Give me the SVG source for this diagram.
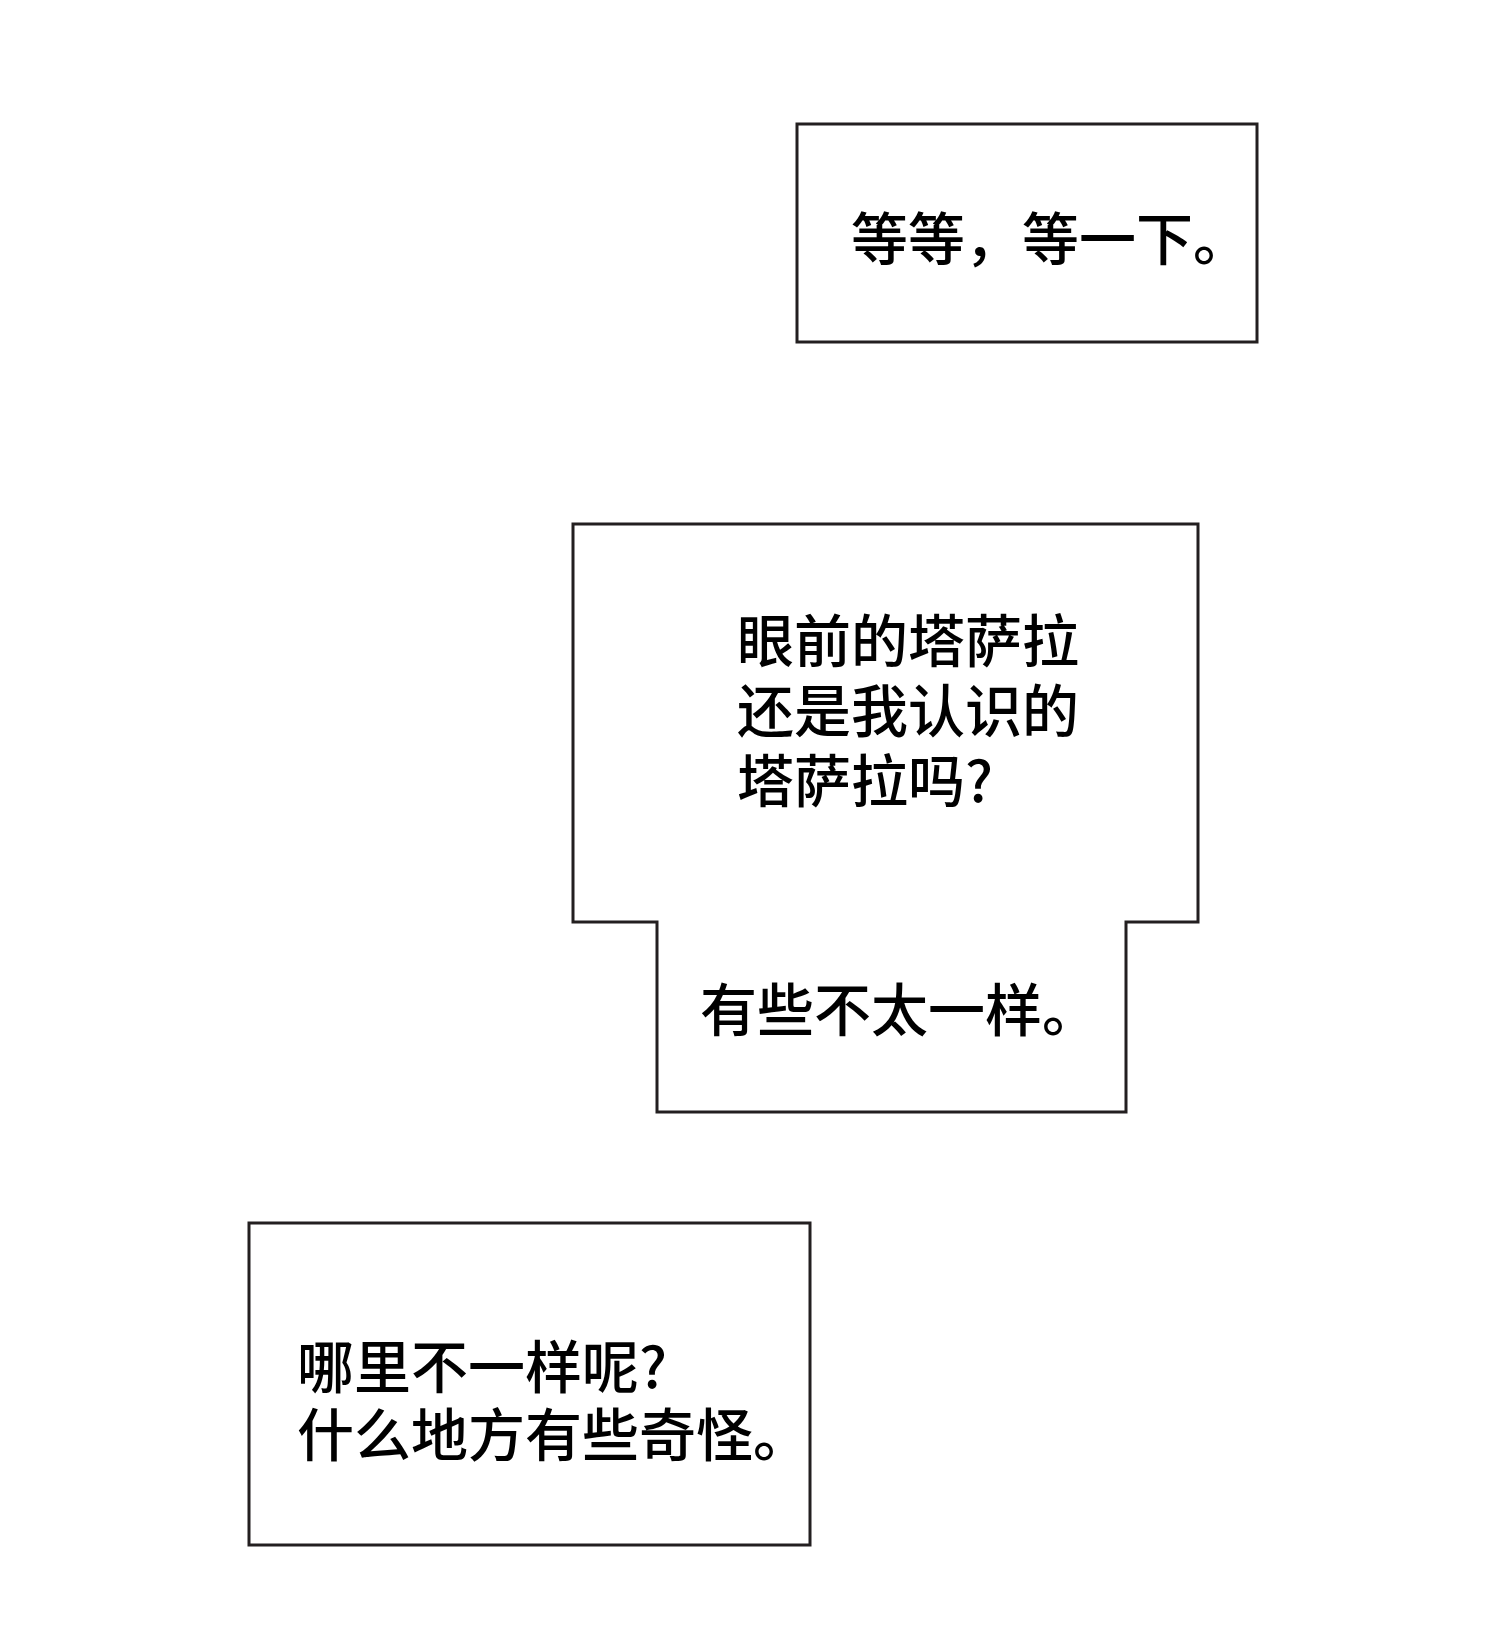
<svg xmlns="http://www.w3.org/2000/svg" width="1500" height="1635" viewBox="0 0 1500 1635">
<style>
.b{fill:#fff;stroke:#231f20;stroke-width:3}
.t{font-family:"Noto Sans CJK SC","Noto Sans",sans-serif;font-size:57px;font-weight:500;fill:#000}
</style>
<rect width="1500" height="1635" fill="#fff"/>
<g id="box1"><rect class="b" x="797" y="124" width="460" height="218"/>
<text class="t" x="851" y="260">等等，等一下。</text></g>
<g id="box2"><path class="b" d="M573,524H1198V922H1126V1112H657V922H573Z"/>
<text class="t" x="737" y="662">眼前的塔萨拉</text>
<text class="t" x="737" y="732">还是我认识的</text>
<text class="t" x="737" y="802">塔萨拉吗?</text>
<text class="t" x="700" y="1031">有些不太一样。</text></g>
<g id="box3"><rect class="b" x="249" y="1223" width="561" height="322"/>
<text class="t" x="297" y="1388">哪里不一样呢?</text>
<text class="t" x="297" y="1456">什么地方有些奇怪。</text></g>
<g id="connectors"/>
</svg>
